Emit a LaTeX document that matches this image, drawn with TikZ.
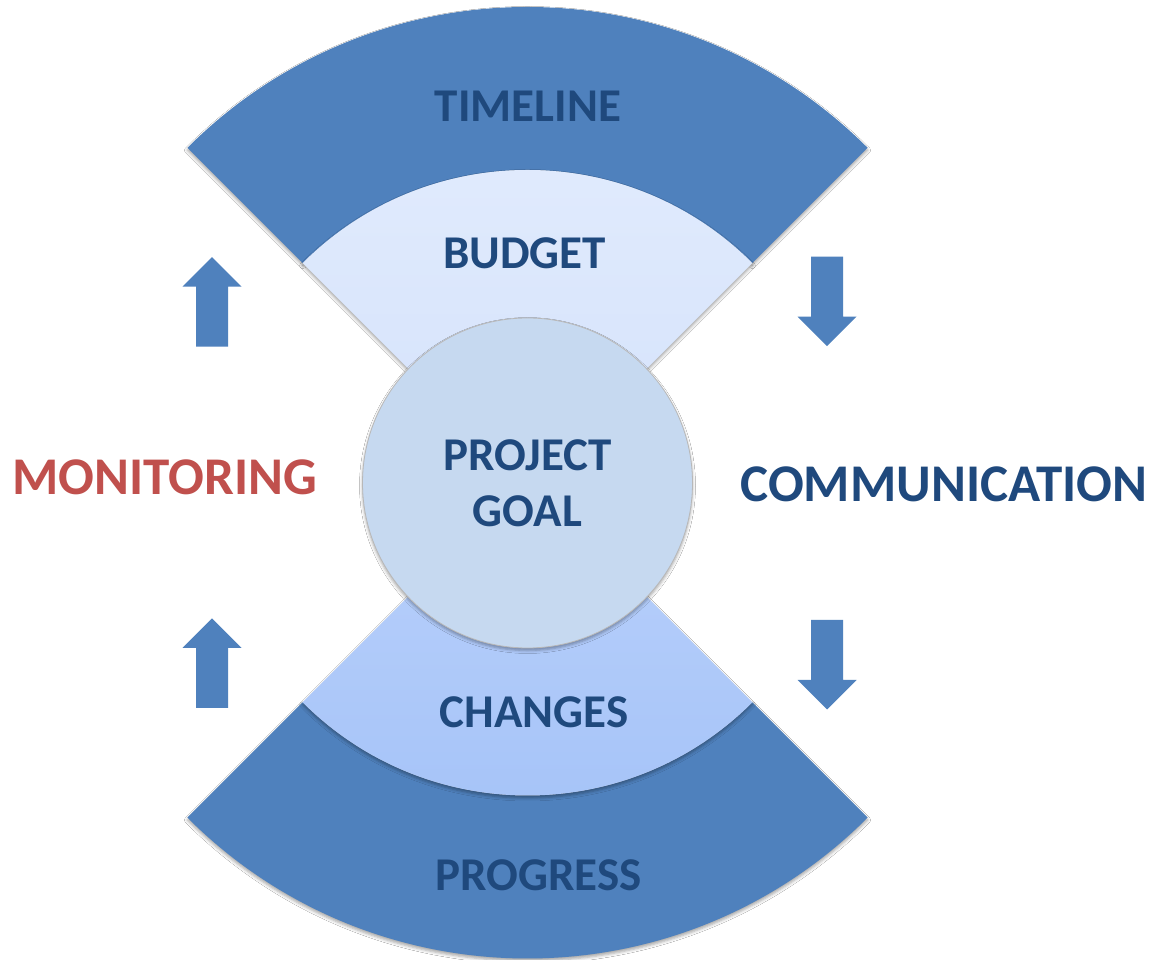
\documentclass[tikz,border=0pt]{standalone}
\usepackage{fontspec}
\setmainfont{Carlito}
\usetikzlibrary{calc,shadows.blur}

\definecolor{bandblue}{HTML}{4F81BD}
\definecolor{labelblue}{HTML}{1F497D}
\definecolor{alertred}{HTML}{C0504D}
\definecolor{paletop}{HTML}{E1EBFD}
\definecolor{palebot}{HTML}{D4E2FB}
\definecolor{midtop}{HTML}{BAD1FB}
\definecolor{midbot}{HTML}{A5C3F8}
\definecolor{goalfill}{HTML}{C6D9F0}

\tikzset{
  softshadow/.style={blur shadow={shadow xshift=0pt, shadow yshift=-2.5pt,
      shadow blur radius=3pt, shadow opacity=35}},
  band/.style={fill=bandblue, softshadow},
  ringtext/.style={font=\fontsize{47}{56}\selectfont\bfseries, text=labelblue,
      anchor=base, inner sep=0pt},
  sidetext/.style={font=\fontsize{53}{64}\selectfont\bfseries, anchor=base, inner sep=0pt},
  goalstyle/.style={circle, minimum size=330pt, inner sep=0pt, fill=goalfill,
      draw=black!28, line width=0.8pt, softshadow, align=center,
      font=\fontsize{47}{56}\selectfont\bfseries, text=labelblue},
  blockup/.pic={\fill[bandblue] (-16,0) -- (-16,60) -- (-29.5,60) -- (0,89.5)
      -- (29.5,60) -- (16,60) -- (16,0) -- cycle;},
}

\begin{document}
\begin{tikzpicture}[x=1pt,y=1pt]
\useasboundingbox (0,0) rectangle (1153,960);
\fill[white] (0,0) rectangle (1153,960);

% centres of the upper and lower fans
\coordinate (ctop) at (527.5,472);
\coordinate (cbot) at (527.5,482.5);

% upper fan: outer band, then inner wedge
\path[band] ($(ctop)+(45:481)$) arc[start angle=45,end angle=135,radius=481]
  -- ($(ctop)+(135:318)$) arc[start angle=135,end angle=45,radius=318] -- cycle;
\path[softshadow, top color=paletop, bottom color=palebot]
  (ctop) -- ($(ctop)+(45:318)$) arc[start angle=45,end angle=135,radius=318] -- cycle;

% lower fan: outer band, then inner wedge
\path[band] ($(cbot)+(225:481)$) arc[start angle=225,end angle=315,radius=481]
  -- ($(cbot)+(315:318)$) arc[start angle=315,end angle=225,radius=318] -- cycle;
\path[softshadow, top color=midtop, bottom color=midbot]
  (cbot) -- ($(cbot)+(225:318)$) arc[start angle=225,end angle=315,radius=318] -- cycle;

% hub
\node[goalstyle] (goal) at (527.5,477) {PROJECT\\GOAL};

% fan labels
\node[ringtext] (timeline) at (528,838.3) {TIMELINE};
\node[ringtext] (budget) at (524.5,691) {BUDGET};
\node[ringtext] (changes) at (534,232) {CHANGES};
\node[ringtext] (progress) at (538.5,69) {PROGRESS};

% side labels
\node[sidetext, text=alertred] (monitoring) at (164.7,465) {MONITORING};
\node[sidetext, text=labelblue] (communication) at (943.8,458.3) {COMMUNICATION};

% block arrows
\pic (upA) at (212,613.3) {blockup};
\pic (upB) at (212,252) {blockup};
\pic[rotate=180] (downA) at (827,703.3) {blockup};
\pic[rotate=180] (downB) at (827,340) {blockup};
\end{tikzpicture}
\end{document}
